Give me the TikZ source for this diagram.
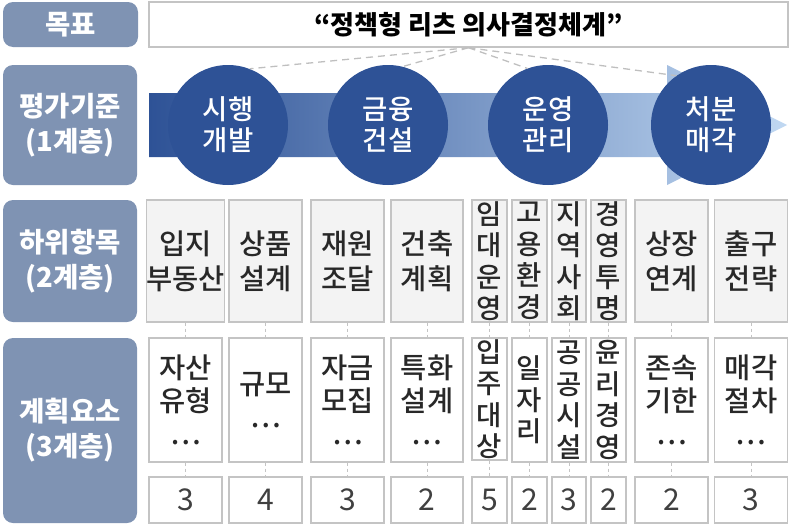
\documentclass[tikz,border=0pt]{standalone}
\usepackage{fontspec}
\setmainfont{Noto Sans CJK KR}
\IfFontExistsTF{Noto Sans CJK KR Medium}{\newfontfamily\medkr{Noto Sans CJK KR Medium}}{\newfontfamily\medkr{Noto Sans CJK KR}}
\definecolor{headgray}{RGB}{127,147,179}
\definecolor{stageblue}{RGB}{46,82,150}
\definecolor{bandlight}{RGB}{192,216,242}
\definecolor{boxline}{RGB}{196,196,196}
\definecolor{boxfill}{RGB}{243,243,243}
\definecolor{inktext}{RGB}{40,40,40}
\definecolor{numtext}{RGB}{64,64,64}
\usepackage{tikz}

\begin{document}
\begin{tikzpicture}[x=1pt,y=-1pt]

%
% Styles
%
\tikzstyle{header} = [rectangle,rounded corners=10pt,fill=headgray,text=white,inner sep=0pt,align=center,font=\bfseries\fontsize{27.5}{35}\selectfont]
\tikzstyle{goal} = [rectangle,draw=boxline,line width=1.4pt,fill=white,inner sep=0pt,minimum width=639pt,minimum height=45pt,font=\bfseries\fontsize{26}{30}\selectfont]
\tikzstyle{stage} = [circle,fill=stageblue,text=white,minimum size=120pt,inner sep=0pt,align=center,font=\medkr\fontsize{27.5}{31}\selectfont]
\tikzstyle{sub} = [rectangle,draw=boxline,line width=1.3pt,fill=boxfill,text=inktext,inner sep=0pt,minimum height=122pt,align=center,font=\medkr\fontsize{28.5}{35}\selectfont]
\tikzstyle{elem} = [rectangle,draw=boxline,line width=1.3pt,fill=white,text=inktext,inner sep=0pt,minimum height=124pt,align=center,font=\medkr\fontsize{28.5}{33}\selectfont]
\tikzstyle{narrow} = [font=\medkr\fontsize{27.5}{31.5}\selectfont]
\tikzstyle{count} = [rectangle,draw=boxline,line width=1.3pt,fill=white,text=numtext,inner sep=0pt,minimum height=46pt,font=\fontsize{30}{30}\selectfont]
\tikzstyle{guide} = [draw=gray!50,dash pattern=on 7pt off 5pt,line width=1.3pt]
\tikzstyle{link} = [draw=boxline,dash pattern=on 3pt off 3pt,line width=1pt]

\useasboundingbox (0,0) rectangle (789,525);

% left column
\node[header,minimum width=135pt,minimum height=45pt] (hgoal) at (70.5,24.5) {목표};
\node[header,minimum width=134pt,minimum height=120pt] (hlevel1) at (70,125) {평가기준\\(1계층)};
\node[header,minimum width=134pt,minimum height=122pt] (hlevel2) at (70,261) {하위항목\\(2계층)};
\node[header,minimum width=134pt,minimum height=185pt] (hlevel3) at (70,430.5) {계획요소\\(3계층)};

% goal and stages
\node[goal] (title) at (468.5,24.5) {“정책형 리츠 의사결정체계”};

\shade[left color=stageblue,right color=bandlight] (149,93) -- (667,93) -- (667,65) -- (787,125) -- (667,185) -- (667,157) -- (149,157) -- cycle;

\node[stage] (st1) at (228,125) {시행\\개발};
\node[stage] (st2) at (388,125) {금융\\건설};
\node[stage] (st3) at (548,125) {운영\\관리};
\node[stage] (st4) at (711,125) {처분\\매각};

\draw[guide] (title.south) -- (st1.69);
\draw[guide] (title.south) -- (st2.76);
\draw[guide] (title.south) -- (st3.110);
\draw[guide] (title.south) -- (st4.125);

% level 2
\node[sub,minimum width=73pt] (sub1) at (185.5,261) {입지\\부동산};
\node[sub,minimum width=73pt] (sub2) at (265.5,261) {상품\\설계};
\node[sub,minimum width=73pt] (sub3) at (347.5,261) {재원\\조달};
\node[sub,minimum width=72pt] (sub4) at (427,261) {건축\\계획};
\node[sub,narrow,minimum width=35pt] (sub5) at (489.5,261) {임\\대\\운\\영};
\node[sub,narrow,minimum width=35pt] (sub6) at (529.5,261) {고\\용\\환\\경};
\node[sub,narrow,minimum width=34pt] (sub7) at (569,261) {지\\역\\사\\회};
\node[sub,narrow,minimum width=35pt] (sub8) at (608.5,261) {경\\영\\투\\명};
\node[sub,minimum width=73pt] (sub9) at (671.5,261) {상장\\연계};
\node[sub,minimum width=73pt] (sub10) at (751,261) {출구\\전략};

% level 3
\node[elem,minimum width=73pt] (elem1) at (185.5,400) {자산\\유형\\…};
\node[elem,minimum width=73pt] (elem2) at (265.5,400) {규모\\…};
\node[elem,minimum width=73pt] (elem3) at (347.5,400) {자금\\모집\\…};
\node[elem,minimum width=72pt] (elem4) at (427,400) {특화\\설계\\…};
\node[elem,narrow,minimum width=35pt,minimum height=122pt] (elem5) at (489.5,399) {입\\주\\대\\상};
\node[elem,narrow,minimum width=35pt] (elem6) at (529.5,400) {일\\자\\리};
\node[elem,narrow,minimum width=34pt] (elem7) at (569,400) {공\\공\\시\\설};
\node[elem,narrow,minimum width=35pt] (elem8) at (608.5,400) {윤\\리\\경\\영};
\node[elem,minimum width=73pt] (elem9) at (671.5,400) {존속\\기한\\…};
\node[elem,minimum width=73pt] (elem10) at (751,400) {매각\\절차\\…};

% counts
\node[count,minimum width=73pt] (cnt1) at (185.5,500) {3};
\node[count,minimum width=73pt] (cnt2) at (265.5,500) {4};
\node[count,minimum width=73pt] (cnt3) at (347.5,500) {3};
\node[count,minimum width=72pt] (cnt4) at (427,500) {2};
\node[count,minimum width=35pt] (cnt5) at (489.5,500) {5};
\node[count,minimum width=35pt] (cnt6) at (529.5,500) {2};
\node[count,minimum width=34pt] (cnt7) at (569,500) {3};
\node[count,minimum width=35pt] (cnt8) at (608.5,500) {2};
\node[count,minimum width=73pt] (cnt9) at (671.5,500) {2};
\node[count,minimum width=73pt] (cnt10) at (751,500) {3};

\draw[link] (sub1) -- (elem1);  \draw[link] (elem1) -- (cnt1);
\draw[link] (sub2) -- (elem2);  \draw[link] (elem2) -- (cnt2);
\draw[link] (sub3) -- (elem3);  \draw[link] (elem3) -- (cnt3);
\draw[link] (sub4) -- (elem4);  \draw[link] (elem4) -- (cnt4);
\draw[link] (sub5) -- (elem5);  \draw[link] (elem5) -- (cnt5);
\draw[link] (sub6) -- (elem6);  \draw[link] (elem6) -- (cnt6);
\draw[link] (sub7) -- (elem7);  \draw[link] (elem7) -- (cnt7);
\draw[link] (sub8) -- (elem8);  \draw[link] (elem8) -- (cnt8);
\draw[link] (sub9) -- (elem9);  \draw[link] (elem9) -- (cnt9);
\draw[link] (sub10) -- (elem10);  \draw[link] (elem10) -- (cnt10);

\end{tikzpicture}
\end{document}
